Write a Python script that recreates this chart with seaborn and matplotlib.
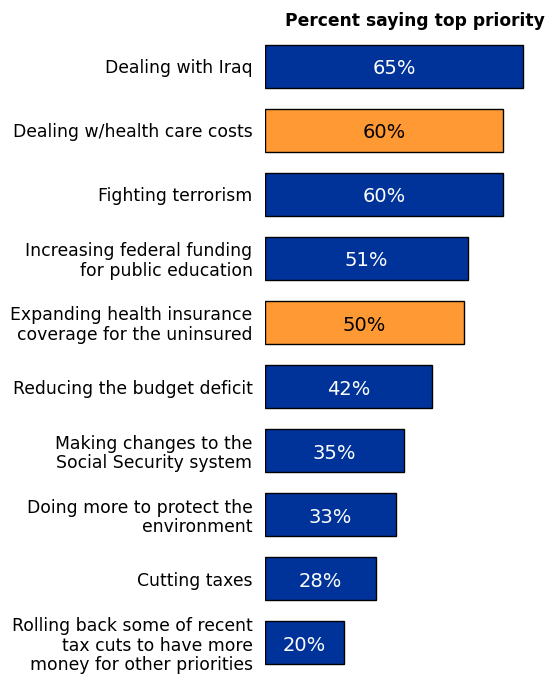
import matplotlib
matplotlib.use("Agg")
import matplotlib.pyplot as plt
import seaborn as sns
import pandas as pd

sns.set_theme(style="white")
plt.rcParams['font.family'] = ['DejaVu Sans']

categories = [
    "Dealing with Iraq",
    "Dealing w/health care costs",
    "Fighting terrorism",
    "Increasing federal funding\nfor public education",
    "Expanding health insurance\ncoverage for the uninsured",
    "Reducing the budget deficit",
    "Making changes to the\nSocial Security system",
    "Doing more to protect the\nenvironment",
    "Cutting taxes",
    "Rolling back some of recent\ntax cuts to have more\nmoney for other priorities",
]
values = [65, 60, 60, 51, 50, 42, 35, 33, 28, 20]
highlight = [False, True, False, False, True, False, False, False, False, False]

BLUE = "#003399"
ORANGE = "#FF9933"
bar_colors = [ORANGE if h else BLUE for h in highlight]
text_colors = ["black" if h else "white" for h in highlight]

df = pd.DataFrame({"issue": categories, "pct": values})

fig = plt.figure(figsize=(5.47, 6.75), dpi=100)
ax = fig.add_axes([265 / 547, 0.0, 280 / 547, 641 / 675])

sns.barplot(data=df, x="pct", y="issue", hue="issue", palette=bar_colors,
            legend=False, edgecolor="black", linewidth=1.0, width=0.67,
            saturation=1, ax=ax)

# value labels inside each bar
for i, (v, tc) in enumerate(zip(values, text_colors)):
    ax.text(v / 2, i + 0.04, f"{v}%", ha="center", va="center", color=tc,
            fontsize=14)

ax.set_xlim(0, 70.5)
ax.set_ylim(9.5, -0.5)
ax.set_xlabel("")
ax.set_ylabel("")
ax.set_xticks([])
ax.tick_params(axis="y", length=0, pad=9, labelsize=12.4, labelcolor="black")
for lbl in ax.get_yticklabels():
    lbl.set_linespacing(1.1)
for s in ax.spines.values():
    s.set_visible(False)

fig.text(415 / 547, 1 - 21 / 675, "Percent saying top priority", ha="center",
         va="center", fontsize=12.3, fontweight="bold", color="black")

fig.savefig("out.png", dpi=100, facecolor="white")
